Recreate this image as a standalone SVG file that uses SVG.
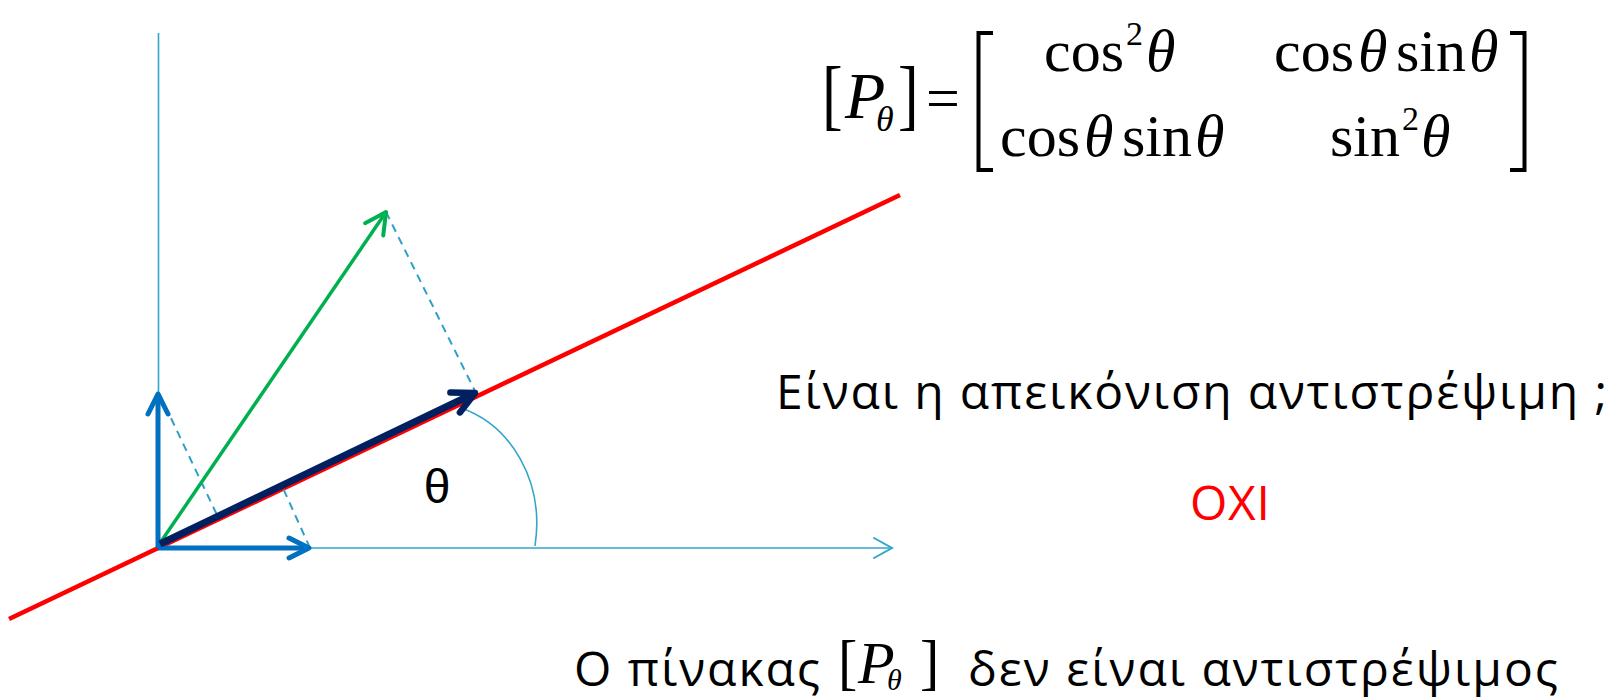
<svg xmlns="http://www.w3.org/2000/svg" width="1623" height="697" viewBox="0 0 1623 697">
<style>
.axis{stroke:#31A6CA;stroke-width:1.6;fill:none}
.dash{stroke:#2E9FC9;stroke-width:2;stroke-dasharray:8 6;fill:none}
.red{stroke:#FF0000;stroke-width:4.5;fill:none}
.green{stroke:#00B050;stroke-width:3.5;fill:none}
.navy{stroke:#002060;stroke-width:7;fill:none}
.blue{stroke:#0070C0;stroke-width:5;fill:none}
.txt{font-family:"Open Sans","Noto Sans","DejaVu Sans",sans-serif;font-size:48px;fill:#000}
.m{font-family:"Liberation Serif","Times New Roman",serif;font-size:60px;fill:#000}
.mi{font-family:"Liberation Serif","Times New Roman",serif;font-size:60px;font-style:italic;fill:#000}
.sup{font-family:"Liberation Serif","Times New Roman",serif;font-size:34px;fill:#000}
.subi{font-family:"Liberation Serif","Times New Roman",serif;font-size:36px;font-style:italic;fill:#000}
</style>
<defs>
<marker id="aAxis" markerUnits="userSpaceOnUse" viewBox="-24 -14 28 28" markerWidth="28" markerHeight="28" refX="0" refY="0" orient="auto">
<path d="M-18,-10 L0,0 L-18,10" stroke="#31A6CA" stroke-width="2" fill="none" stroke-linecap="round"/>
</marker>
<marker id="aGreen" markerUnits="userSpaceOnUse" viewBox="-28 -16 32 32" markerWidth="32" markerHeight="32" refX="0" refY="0" orient="auto">
<path d="M-21,-11 L0,0 L-21,11" stroke="#00B050" stroke-width="4" fill="none" stroke-linecap="round" stroke-linejoin="round"/>
</marker>
<marker id="aNavy" markerUnits="userSpaceOnUse" viewBox="-30 -18 34 36" markerWidth="34" markerHeight="36" refX="0" refY="0" orient="auto">
<path d="M-22,-11 L0,0 L-22,11" stroke="#002060" stroke-width="6.5" fill="none" stroke-linecap="round" stroke-linejoin="round"/>
</marker>
<marker id="aBlue" markerUnits="userSpaceOnUse" viewBox="-28 -16 32 32" markerWidth="32" markerHeight="32" refX="0" refY="0" orient="auto">
<path d="M-20,-10 L0,0 L-20,10" stroke="#0070C0" stroke-width="5" fill="none" stroke-linecap="round" stroke-linejoin="round"/>
</marker>
</defs>
<rect width="1623" height="697" fill="#fff"/>

<g id="connectors">
<line class="axis" x1="158.5" y1="33" x2="158.5" y2="548"/>
<line class="axis" x1="158" y1="548" x2="892" y2="548" marker-end="url(#aAxis)"/>
<path class="axis" d="M461,408 C510,425 545,480 535,546"/>
<line class="red" x1="9" y1="619" x2="900" y2="195"/>
<line class="dash" x1="386" y1="212" x2="476" y2="393"/>
<line class="dash" x1="159" y1="393" x2="218" y2="517"/>
<line class="dash" x1="310" y1="548" x2="282" y2="486"/>
<line class="green" x1="158" y1="546" x2="386" y2="212" marker-end="url(#aGreen)"/>
<line class="blue" x1="158" y1="548" x2="158" y2="394" marker-end="url(#aBlue)"/>
<line class="blue" x1="158" y1="548" x2="309" y2="548" marker-end="url(#aBlue)"/>
<line class="navy" x1="160" y1="544" x2="475" y2="393" marker-end="url(#aNavy)"/>
</g>

<g id="theta-label">
<text x="437" y="503" text-anchor="middle" font-family="Liberation Sans, Arial, sans-serif" font-size="48">θ</text>
</g>

<g id="matrix">
<text class="m" transform="translate(822,121) scale(1,1.25)" style="font-size:62px">[</text>
<text class="mi" x="845" y="118" style="font-size:66px">P</text>
<text class="subi" x="876" y="131">θ</text>
<text class="m" transform="translate(898,121) scale(1,1.25)" style="font-size:62px">]</text>
<text class="m" x="926" y="118">=</text>
<path d="M993,33 H978.5 V170 H993" stroke="#000" stroke-width="4" fill="none"/>
<path d="M1510,33 H1524.5 V170 H1510" stroke="#000" stroke-width="4" fill="none"/>
<text class="m" x="1044" y="71">cos</text>
<text class="sup" x="1126" y="45">2</text>
<text class="mi" x="1146" y="71">θ</text>
<text class="m" x="1274" y="71">cos</text>
<text class="mi" x="1358" y="71">θ</text>
<text class="m" x="1396" y="71">sin</text>
<text class="mi" x="1469" y="71">θ</text>
<text class="m" x="1000" y="156">cos</text>
<text class="mi" x="1084" y="156">θ</text>
<text class="m" x="1122" y="156">sin</text>
<text class="mi" x="1195" y="156">θ</text>
<text class="m" x="1330" y="156">sin</text>
<text class="sup" x="1402" y="130">2</text>
<text class="mi" x="1421" y="156">θ</text>
</g>

<g id="question">
<text class="txt" x="776" y="409" textLength="831">Είναι η απεικόνιση αντιστρέψιμη ;</text>
</g>

<g id="answer">
<text class="txt" x="1190" y="520" style="fill:#FF0000" textLength="80">ΟΧΙ</text>
</g>

<g id="conclusion">
<text class="txt" x="574" y="686" textLength="246">Ο πίνακας</text>
<text class="m" transform="translate(838,683) scale(1,1.06)" style="font-size:58px">[</text>
<text class="mi" x="858" y="683" style="font-size:60px">P</text>
<text class="subi" x="887" y="690" style="font-size:30px">θ</text>
<text class="m" transform="translate(920,683) scale(1,1.06)" style="font-size:58px">]</text>
<text class="txt" x="968" y="686" textLength="590">δεν είναι αντιστρέψιμος</text>
</g>
</svg>
